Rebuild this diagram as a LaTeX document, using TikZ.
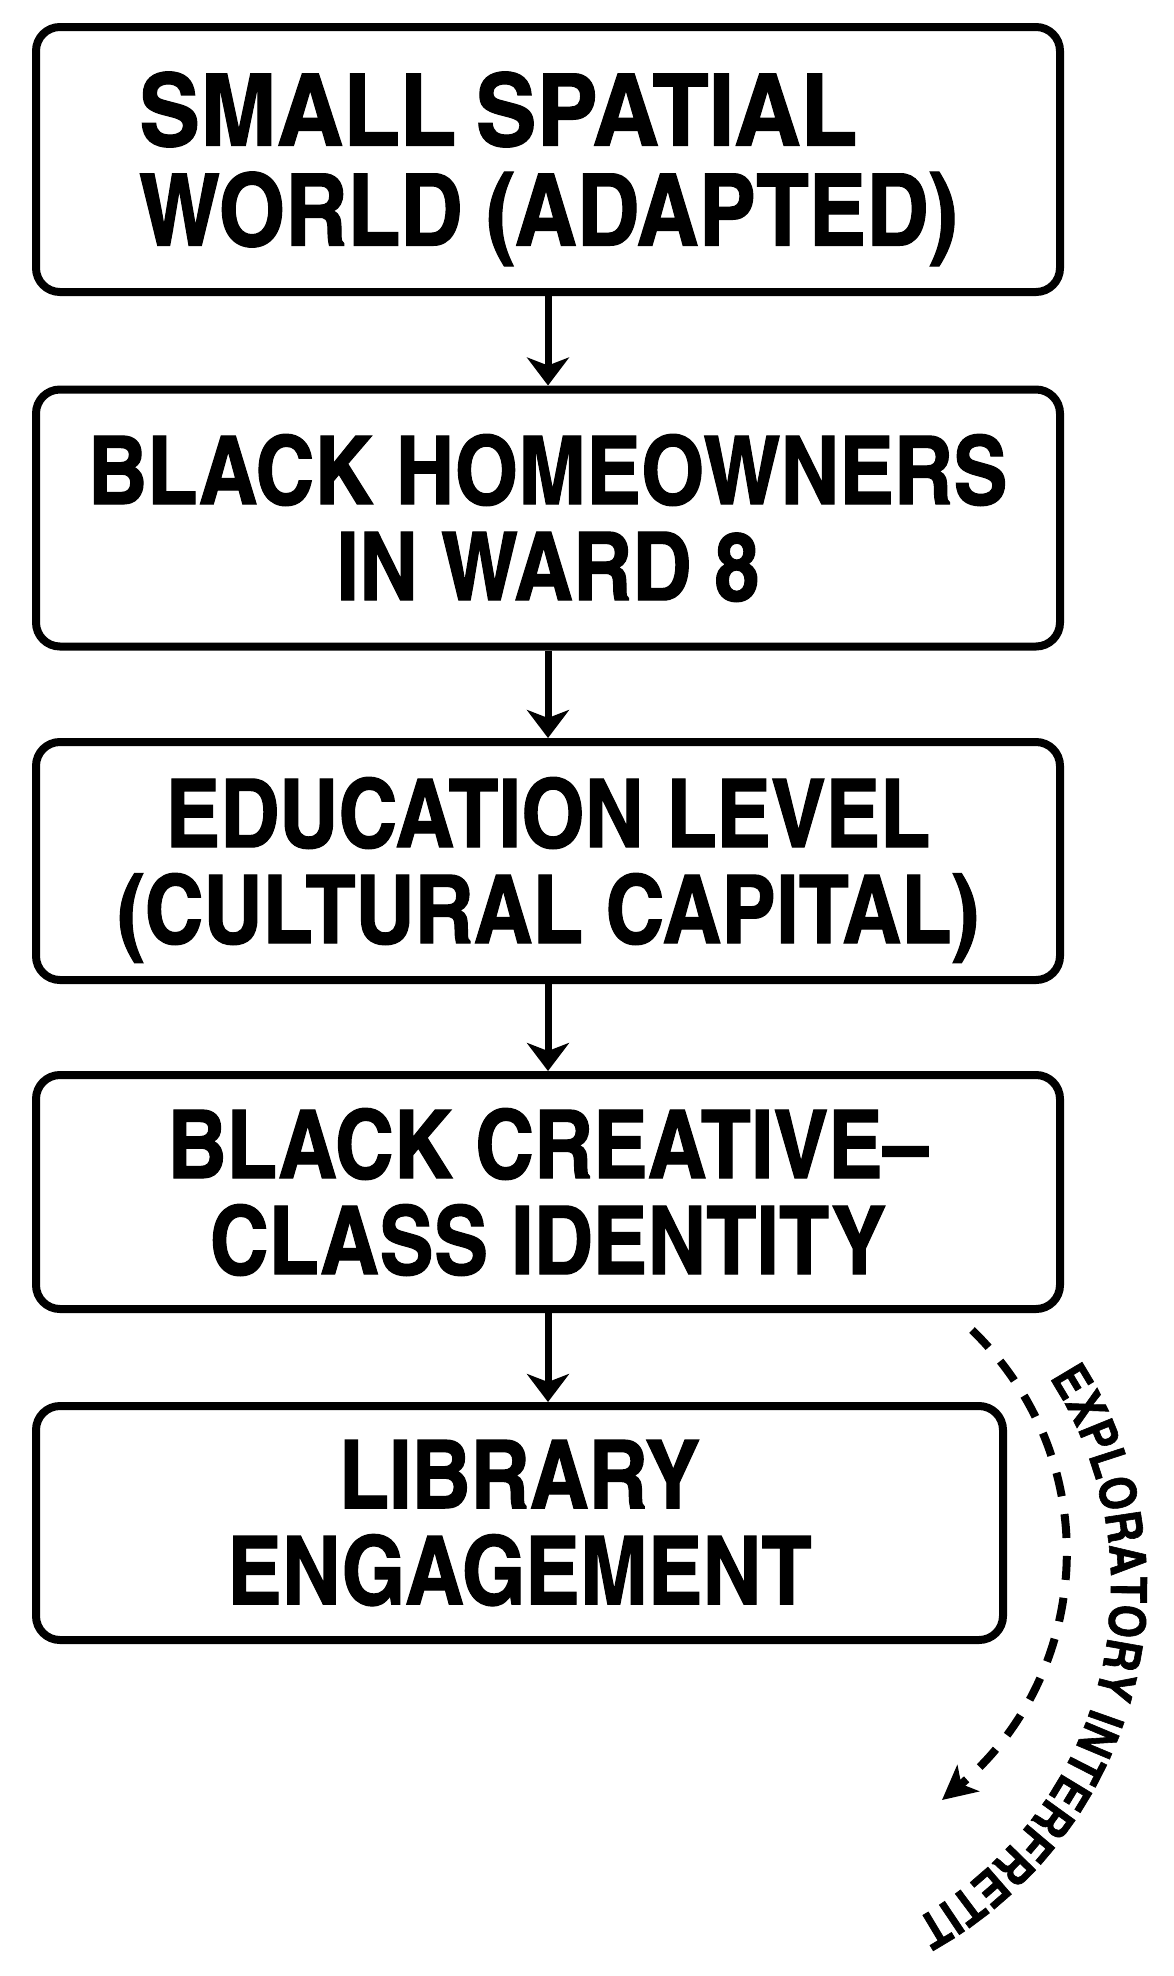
\documentclass[tikz,border=0pt]{standalone}
\usepackage{fontspec}
\usepackage{graphicx}
\newfontfamily\cnfont{texgyreheroscn-bold.otf}[FakeStretch=1.05,FakeBold=1.2]
\newcommand\nodp[1]{\raisebox{0pt}[\height][0pt]{#1}}
\usetikzlibrary{arrows.meta,decorations.text}
\begin{document}
\begin{tikzpicture}[x=1pt,y=-1pt,
  box/.style={draw,line width=8pt,rounded corners=24pt,inner sep=0pt,align=center,
    font=\cnfont\fontsize{95}{96}\selectfont},
  flow/.style={line width=7pt,-{Stealth[length=28pt,width=42pt,inset=8pt]}},
  curvedarrow/.style={line width=8pt,dash pattern=on 24pt off 18pt,
    -{Stealth[length=34pt,width=34pt,inset=9pt]}},
]
\useasboundingbox (0,0) rectangle (1173,1976);
\fill[white] (0,0) rectangle (1173,1976);
\node[box,minimum width=1024pt,minimum height=265pt,align=left,
  font=\cnfont\fontsize{100}{100}\selectfont] (b1) at (548,159.5)
  {\scalebox{1.07}[1]{SMALL\hspace{0.18em}SPATIAL}\\WORLD \nodp{(}ADAPTED\nodp{)}};
\node[box,minimum width=1024pt,minimum height=257pt] (b2) at (548,518) {BLACK HOMEOWNERS\\IN WARD 8};
\node[box,minimum width=1024pt,minimum height=238pt] (b3) at (548,861) {EDUCATION LEVEL\\\nodp{(}CULTURAL CAPITAL\nodp{)}};
\node[box,minimum width=1024pt,minimum height=234pt] (b4) at (548,1192) {BLACK CREATIVE–\\CLASS IDENTITY};
\node[box,minimum width=967pt,minimum height=234pt] (b5) at (519.5,1523) {LIBRARY\\ENGAGEMENT};
\draw[flow] (b1.south) -- (b2.north);
\draw[flow] (b2.south) -- (b3.north);
\draw[flow] (b3.south) -- (b4.north);
\draw[flow] (b4.south) -- (b4.south |- b5.north);
\coordinate (cs) at (972,1330);
\coordinate (ce) at (942,1800);
\draw[curvedarrow] (cs) .. controls (1110,1464) and (1090,1677) .. (ce);
\coordinate (cc) at (729,1586);
\begin{scope}
\cnfont\fontsize{50}{50}\selectfont
\path[decorate,decoration={text along path,text align=fit to path,
  text={EXPLORATORY INTERFRETIT}}]
  (cc) ++(-33:382) arc[start angle=-33,end angle=61,radius=382];
\end{scope}
\end{tikzpicture}
\end{document}
